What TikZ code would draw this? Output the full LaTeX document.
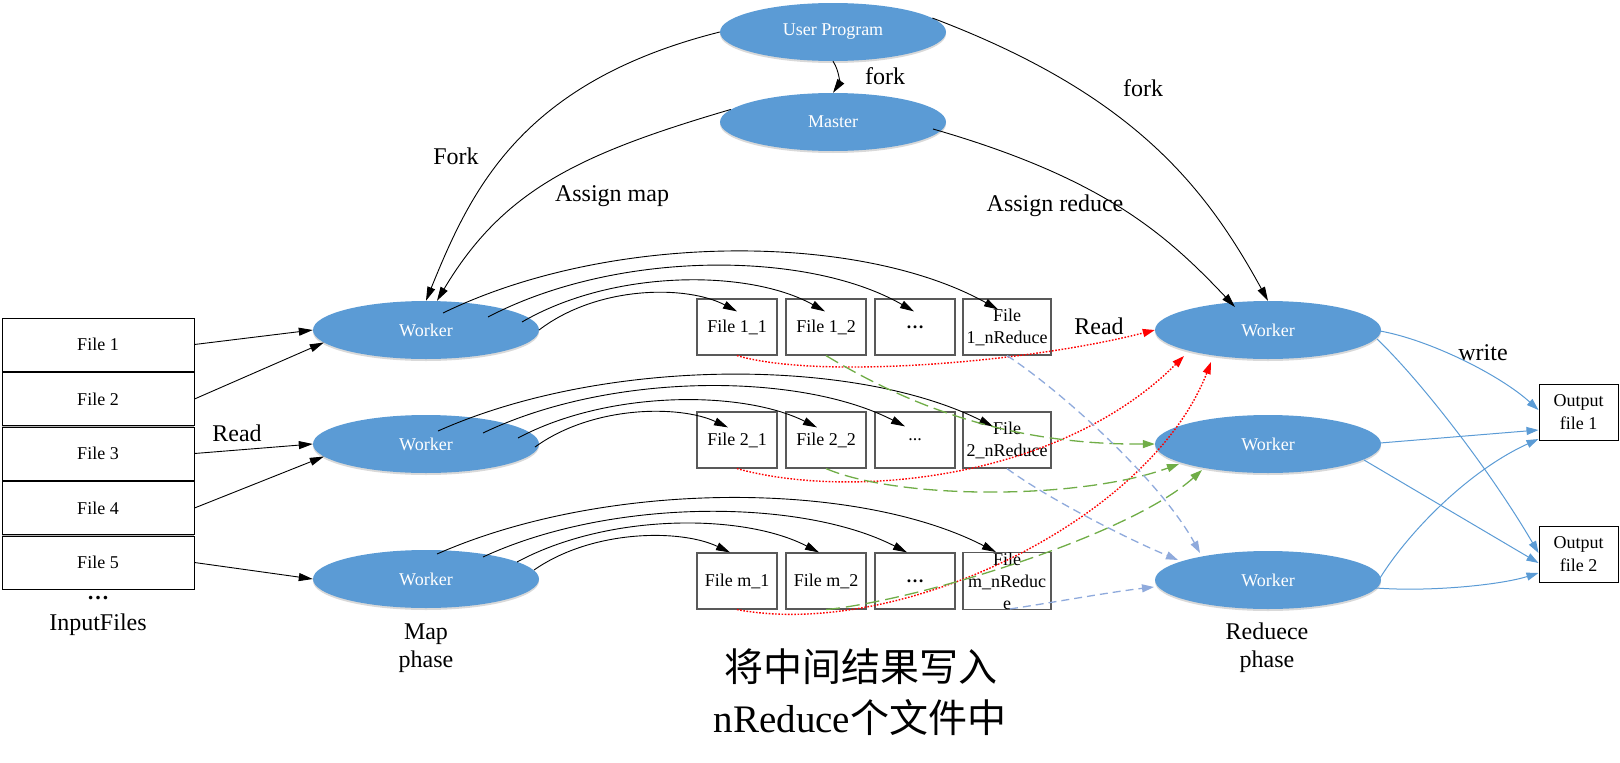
\documentclass[tikz,border=0pt]{standalone}
\usepackage{fontspec}
\setmainfont{Liberation Serif}
\newfontfamily\cjk{Noto Sans CJK SC}
\usetikzlibrary{shapes.geometric,arrows.meta,shadows,calc}
\definecolor{wblue}{HTML}{5B9BD5}
\definecolor{lblue}{HTML}{8FAADC}
\definecolor{dgreen}{HTML}{70AD47}
\definecolor{boxgray}{HTML}{595959}
\begin{document}
\begin{tikzpicture}[x=1pt,y=-1pt,
  worker/.style={ellipse, fill=wblue, minimum width=226pt, minimum height=58pt, inner sep=0pt,
    text=white, font=\fontsize{18}{22}\selectfont,
    drop shadow={shadow xshift=0pt,shadow yshift=-2pt,opacity=.3,fill=gray}},
  fbox/.style={draw=boxgray, line width=1.2pt, minimum width=80pt, minimum height=56pt, inner sep=0pt,
    align=center, font=\fontsize{18}{22}\selectfont},
  ibox/.style={draw=black, fill=white, line width=1pt, minimum width=192pt, minimum height=53pt,
    inner sep=0pt, font=\fontsize{18}{22}\selectfont},
  obox/.style={draw=black, line width=1pt, minimum width=79pt, minimum height=56pt, inner sep=0pt,
    align=center, font=\fontsize{18}{23}\selectfont},
  lab/.style={font=\fontsize{24}{28}\selectfont, inner sep=0pt, align=center},
  blk/.style={line width=0.9pt, -{Triangle[length=14pt,width=8pt]}},
  redl/.style={red, line width=1.4pt, dash pattern=on 1.6pt off 1.6pt, -{Triangle[length=12pt,width=8pt]}},
  grnl/.style={dgreen, line width=1.3pt, dash pattern=on 14pt off 6pt, -{Triangle[length=12pt,width=8pt]}},
  blul/.style={lblue, line width=1.3pt, dash pattern=on 8pt off 5pt, -{Triangle[length=12pt,width=8pt]}},
  outl/.style={wblue, line width=1pt, -{Triangle[length=12pt,width=8pt]}}
]
\useasboundingbox (0,0) rectangle (1620,763);

% ---- top nodes
\node[worker] (up) at (833,32) {User Program};
\node[worker] (ms) at (833,122) {Master};

% ---- workers
\node[worker] (mw1) at (426,330) {Worker};
\node[worker] (mw2) at (426,444) {Worker};
\node[worker] (mw3) at (426,579) {Worker};
\node[worker] (rw1) at (1268,330) {Worker};
\node[worker] (rw2) at (1268,444) {Worker};
\node[worker] (rw3) at (1268,580) {Worker};

% ---- input files
\fill[gray!60] (2,318) rectangle (194,589);
\node[ibox] (in1) at (98,344.5) {File 1};
\node[ibox] (in2) at (98,399) {File 2};
\node[ibox] (in3) at (98,453.5) {File 3};
\node[ibox] (in4) at (98,508) {File 4};
\node[ibox] (in5) at (98,562.5) {File 5};
\node[font=\fontsize{22}{24}\selectfont\bfseries, inner sep=0pt] (dots) at (98,598) {…};
\node[lab] (inlab) at (98,625) {InputFiles};

% ---- intermediate files
\node[fbox] (f11) at (737,327) {File 1\_1};
\node[fbox] (f12) at (826,327) {File 1\_2};
\node[fbox, font=\fontsize{18}{22}\selectfont\bfseries] (f13) at (915,327) {…};
\node[fbox, minimum width=88pt] (f14) at (1007,327) {File\\1\_nReduce};
\node[fbox] (f21) at (737,440) {File 2\_1};
\node[fbox] (f22) at (826,440) {File 2\_2};
\node[fbox] (f23) at (915,440) {...};
\node[fbox, minimum width=88pt] (f24) at (1007,440) {File\\2\_nReduce};
\node[fbox] (f31) at (737,581) {File m\_1};
\node[fbox] (f32) at (826,581) {File m\_2};
\node[fbox, font=\fontsize{18}{22}\selectfont\bfseries] (f33) at (915,581) {…};
\node[fbox, minimum width=88pt] (f34) at (1007,581) {File\\m\_nReduc\\e};

% ---- output files
\node[obox] (o1) at (1578.5,412) {Output\\file 1};
\node[obox] (o2) at (1578.5,554) {Output\\file 2};

% ---- labels
\node[lab] (lFork) at (456,156) {Fork};
\node[lab] (lAmap) at (612,196) {Assign map};
\node[lab] (lfork1) at (885,76) {fork};
\node[lab] (lfork2) at (1143,88) {fork};
\node[lab] (lAred) at (1055,206) {Assign reduce};
\node[lab] (lRead1) at (237,433) {Read};
\node[lab] (lRead2) at (1099,326) {Read};
\node[lab] (lwrite) at (1483,353) {write};
\node[lab] (lmap) at (426,648) {Map\\phase};
\node[lab] (lred) at (1267,648) {Reduece\\phase};
\node[font=\fontsize{39}{45}\selectfont, inner sep=0pt] (cn1) at (861,667) {\cjk 将中间结果写入};
\node[font=\fontsize{39}{45}\selectfont, inner sep=0pt] (cn2) at (860,718) {nReduce{\cjk 个文件中}};

% ---- fork / assign
\draw[blk] (up.south) .. controls (840,72) and (839,84) .. (ms.north);
\draw[blk] (up.west) .. controls (521,82) and (471,190) .. (mw1.north);
\draw[blk] (ms.173) .. controls (579,154) and (503,190) .. ($(mw1.north)+(11,0)$);
\draw[blk] (up.8) .. controls (1133,94) and (1205,186) .. (rw1.north);
\draw[blk] ($(ms)+(100,7)$) .. controls (1103,178) and (1166,234) .. ($(rw1)+(-33,-23)$);

% ---- input reads
\draw[blk] (in1.east) -- (mw1.west);
\draw[blk] (in2.east) -- (mw1.187);
\draw[blk] (in3.east) -- (mw2.west);
\draw[blk] (in4.east) -- (mw2.187);
\draw[blk] (in5.east) -- (mw3.west);

% ---- map writes, row 1
\draw[blk] ($(mw1)+(17,-17)$) .. controls (609,232) and (859,232) .. ($(f14.north)+(-9,11)$);
\draw[blk] ($(mw1)+(62,-13)$) .. controls (616,250) and (807,250) .. ($(f13.north)+(-1,13)$);
\draw[blk] ($(mw1)+(96,-8)$) .. controls (613,269) and (749,269) .. ($(f12.north)+(-1,13)$);
\draw[blk] ($(mw1)+(113,0)$) .. controls (598,285) and (687,285) .. ($(f11.north)+(0,13)$);
% row 2
\draw[blk] ($(mw2)+(12,-13)$) .. controls (604,357) and (854,357) .. ($(f24.north)+(-14,15)$);
\draw[blk] ($(mw2)+(57,-11)$) .. controls (610,372) and (799,372) .. ($(f23.north)+(-10,15)$);
\draw[blk] ($(mw2)+(92,-6)$) .. controls (608,390) and (742,390) .. ($(f22.north)+(-9,16)$);
\draw[blk] ($(mw2)+(109,3)$) .. controls (593,405) and (680,405) .. ($(f21.north)+(-9,16)$);
% row 3
\draw[blk] ($(mw3)+(11,-25)$) .. controls (605,480) and (856,480) .. ($(f34.north)+(-11,0)$);
\draw[blk] ($(mw3)+(57,-22)$) .. controls (610,498) and (801,498) .. ($(f33.north)+(-8,0)$);
\draw[blk] ($(mw3)+(91,-17)$) .. controls (608,513) and (743,513) .. ($(f32.north)+(-7,0)$);
\draw[blk] ($(mw3)+(108,-9)$) .. controls (593,529) and (681,529) .. ($(f31.north)+(-7,0)$);

% ---- shuffle to reducers
\draw[redl] (f11.south) .. controls (820,380) and (1030,362) .. (rw1.west);
\draw[redl] (f21.south) .. controls (850,500) and (1060,480) .. ($(rw1)+(-84,26)$);
\draw[redl] (f31.south) .. controls (900,640) and (1150,520) .. ($(rw1)+(-57,32)$);
\draw[grnl] (f12.south) .. controls (900,400) and (1000,445) .. (rw2.west);
\draw[grnl] (f22.south) .. controls (900,500) and (1080,500) .. ($(rw2)+(-89,20)$);
\draw[grnl] (f32.south) .. controls (920,600) and (1130,535) .. ($(rw2)+(-66,26)$);
\draw[blul] (f14.south) .. controls (1060,390) and (1160,480) .. ($(rw3)+(-68,-27)$);
\draw[blul] (f24.south) .. controls (1050,500) and (1130,540) .. ($(rw3)+(-90,-20)$);
\draw[blul] ($(f34.south)+(3,-1)$) .. controls (1050,603) and (1110,592) .. ($(rw3)+(-114,7)$);

% ---- outputs
\draw[outl] ($(rw1)+(112,1)$) .. controls (1430,340) and (1500,375) .. ($(o1.west)+(0,-2)$);
\draw[outl] ($(rw1)+(109,9)$) .. controls (1420,380) and (1490,470) .. ($(o2.west)+(0,-1)$);
\draw[outl] ($(rw2)+(112,-1)$) -- ($(o1.west)+(0,18)$);
\draw[outl] ($(rw2)+(96,16)$) -- ($(o2.west)+(0,9)$);
\draw[outl] ($(rw3)+(112,-2)$) .. controls (1410,530) and (1470,470) .. ($(o1.west)+(0,27)$);
\draw[outl] ($(rw3)+(108,8)$) .. controls (1430,592) and (1500,585) .. ($(o2.west)+(0,19)$);
\end{tikzpicture}
\end{document}
